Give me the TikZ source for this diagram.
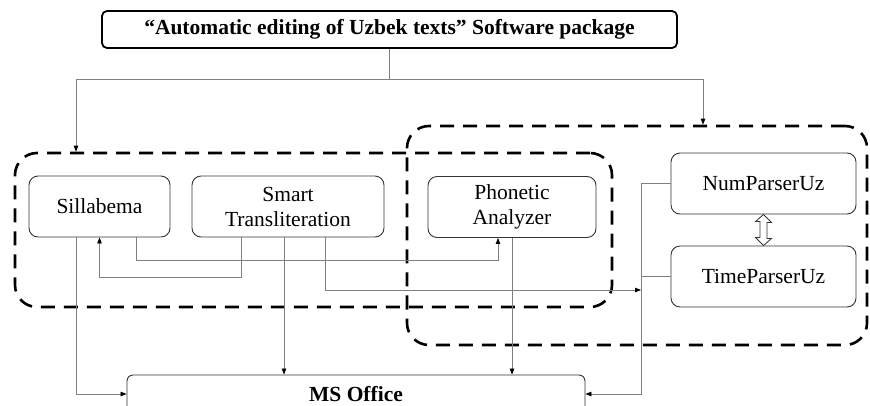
\documentclass[tikz,border=0pt]{standalone}
\usepackage{fontspec}
\setmainfont{Liberation Serif}
\usetikzlibrary{arrows.meta}

\begin{document}
\begin{tikzpicture}[x=1pt,y=-1pt,>={Triangle[length=6pt,width=4.5pt,color=black]},
    font=\fontsize{21.5}{25}\selectfont,
    box/.style={draw=black!80,line width=0.9pt,rounded corners=9pt,align=center,
        minimum height=61pt,inner sep=0pt},
    grp/.style={draw,line width=2.6pt,dash pattern=on 14pt off 9pt,
        rounded corners=22pt,inner sep=0pt},
    wire/.style={draw=black!50,line width=0.8pt}]
    \useasboundingbox (0,0) rectangle (870,405);

    \node[grp,minimum width=460pt,minimum height=219pt] (grpR) at (637,235.5) {};
    \node[grp,minimum width=597pt,minimum height=154pt] (grpL) at (313.5,230) {};

    \node[box,draw=black,line width=1.8pt,rounded corners=5pt,minimum width=575pt,
        minimum height=37pt,font=\fontsize{21.5}{25}\selectfont\bfseries] (title)
        at (389.5,29.5) {“Automatic editing of Uzbek texts” Software package};
    \node[box,minimum width=141pt] (sil) at (99.5,206.5) {Sillabema};
    \node[box,minimum width=192pt] (smart) at (288,206.5) {Smart\\Transliteration};
    \node[box,minimum width=168pt] (phon) at (512,207) {Phonetic\\Analyzer};
    \node[box,minimum width=185pt] (num) at (763.5,183.5) {NumParserUz};
    \node[box,minimum width=185pt] (time) at (763.5,276.5) {TimeParserUz};
    \node[box,rounded corners=6pt,minimum width=458pt,minimum height=38pt,
        font=\fontsize{21.5}{25}\selectfont\bfseries] (office) at (356,394) {MS Office};

    \coordinate (bus) at (title.south |- 0,79);
    \draw[wire] (title.south) -- (bus);
    \draw[wire,->] (bus) -| (76,0 |- grpL.north);
    \draw[wire,->] (bus) -| (703,0 |- grpR.north);

    \draw[wire,->] (sil.south -| 136,0) -- (136,260) -| (phon.south -| 498,0);
    \draw[wire,->] (smart.south -| 241,0) -- (241,277) -| (sil.south);
    \draw[wire,->] (smart.south -| 284,0) -- (office.north -| 284,0);
    \draw[wire,->] (smart.south -| 325,0) -- (325,290) -- (641,290);
    \draw[wire,->] (sil.south -| 76,0) |- (office.west);
    \draw[wire,->] (phon.south) -- (office.north -| phon.south);

    \draw[wire,->] (num.west) -- (641,0 |- num.west) |- (office.east);
    \draw[wire] (time.west) -- (641,0 |- time.west);

    \draw[black!80,line width=0.8pt,line join=miter,fill=white]
        (num.south) -- ++(8,8) -- ++(-4.5,0) -- ++(0,16) -- ++(4.5,0)
        -- (time.north) -- ++(-8,-8) -- ++(4.5,0) -- ++(0,-16) -- ++(-4.5,0) -- cycle;
\end{tikzpicture}
\end{document}
